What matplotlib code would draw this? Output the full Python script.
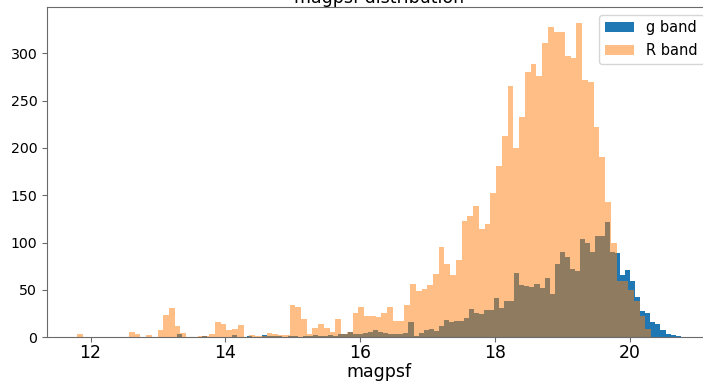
import numpy as np
import matplotlib
matplotlib.use("Agg")
import matplotlib.pyplot as plt

# ---- data (100 bins per band) ----
g_range = (13.276, 20.751)
R_range = (11.801, 20.313)

g_counts = [4, 0, 0, 0, 0, 1, 0, 0, 0, 0,
            0, 2, 0, 0, 1, 0, 0, 2, 1, 1,
            1, 0, 1, 1, 0, 1, 1, 2, 1, 1,
            2, 1, 4, 3, 6, 4, 3, 5, 6, 8,
            6, 5, 4, 4, 4, 5, 16, 1, 5, 8,
            9, 7, 12, 18, 16, 17, 17, 20, 30, 26,
            25, 29, 29, 42, 31, 38, 38, 68, 55, 54,
            53, 56, 52, 63, 46, 77, 90, 85, 72, 70,
            104, 100, 90, 107, 107, 122, 90, 89, 66, 71,
            59, 43, 28, 26, 16, 14, 8, 4, 2, 1]

R_counts = [4, 0, 0, 0, 0, 0, 0, 0, 0, 6,
            3, 0, 2, 0, 8, 24, 31, 12, 5, 0,
            0, 1, 1, 3, 16, 14, 8, 9, 13, 0,
            2, 1, 1, 5, 4, 2, 2, 34, 32, 19,
            3, 10, 14, 10, 6, 19, 4, 6, 26, 32,
            22, 23, 21, 26, 32, 17, 17, 34, 56, 49,
            51, 55, 67, 95, 77, 66, 82, 123, 128, 139,
            114, 120, 152, 181, 213, 265, 200, 233, 280, 289,
            276, 311, 328, 322, 323, 297, 295, 332, 272, 270,
            222, 190, 143, 100, 60, 60, 50, 38, 22, 9]

labels = ["g band", "R band"]
title = "magpsf distribution"
xlabel = "magpsf"

# ---- figure ----
W, H = 703, 381
fig = plt.figure(figsize=(W / 100, H / 100), dpi=100)
ax = fig.add_axes([47.0 / W, (H - 337.3) / H, 663.8 / W, 330.0 / H])

g_edges = np.linspace(g_range[0], g_range[1], len(g_counts) + 1)
R_edges = np.linspace(R_range[0], R_range[1], len(R_counts) + 1)
g_centers = 0.5 * (g_edges[:-1] + g_edges[1:])
R_centers = 0.5 * (R_edges[:-1] + R_edges[1:])

ax.hist(g_centers, bins=g_edges, weights=g_counts, color="#1f77b4", label=labels[0])
ax.hist(R_centers, bins=R_edges, weights=R_counts, color="#ff7f0e", alpha=0.5, label=labels[1])

ax.set_title(title, fontsize=12.5, pad=2.5)
ax.set_xlabel(xlabel, fontsize=12.5, labelpad=0.3)
ax.tick_params(axis="x", labelsize=12.4, pad=1.5)
ax.tick_params(axis="y", labelsize=10.2)
for s in ax.spines.values():
    s.set_color("#6a6a6a")
ax.tick_params(colors="#6a6a6a", labelcolor="black")
ax.legend(loc="upper right", fontsize=10.5)

fig.savefig("out.png", dpi=100)
